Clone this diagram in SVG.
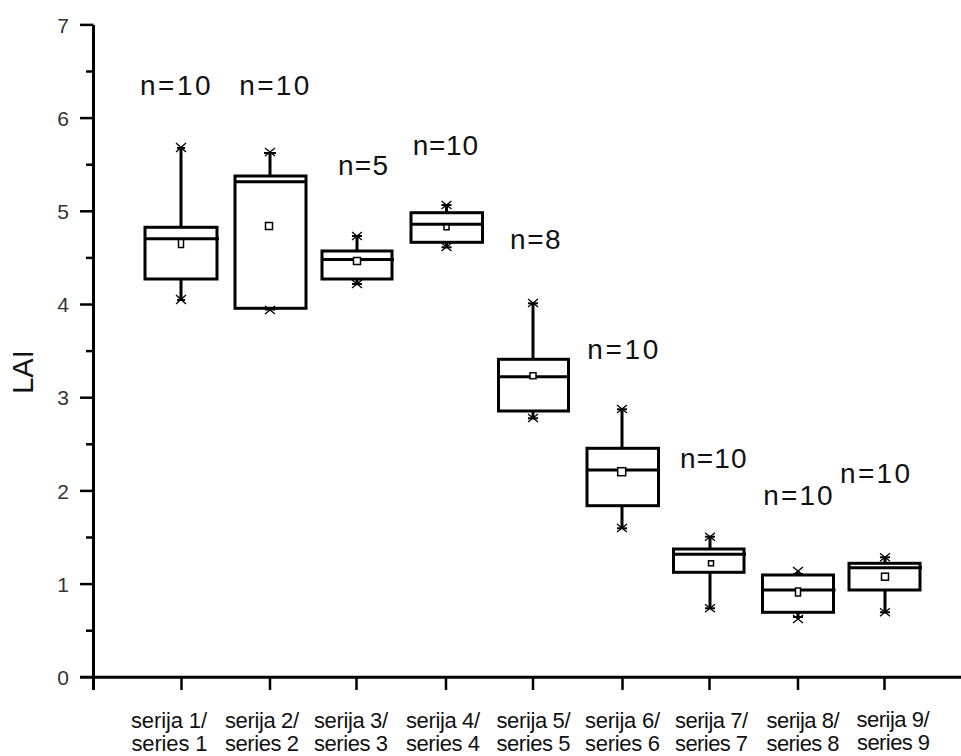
<svg xmlns="http://www.w3.org/2000/svg" width="961" height="756" viewBox="0 0 961 756">
<style>
.ax{stroke:#000;stroke-width:3;fill:none}
.tk{stroke:#000;stroke-width:2.5}
.box{fill:#fff;stroke:#000;stroke-width:3}
.med{stroke:#000;stroke-width:3}
.wh{stroke:#000;stroke-width:3}
.cap{stroke:#000;stroke-width:2}
.xm{stroke:#000;stroke-width:1.3}
.mean{fill:#fff;stroke:#000;stroke-width:1.5}
.yl{font-family:"Liberation Sans",Arial,sans-serif;font-size:21px;fill:#333;text-anchor:end}
.xl{font-family:"Liberation Sans",Arial,sans-serif;font-size:22px;fill:#111}
.nl{font-family:"Liberation Sans",Arial,sans-serif;font-size:28px;fill:#111}
.tt{font-family:"Liberation Sans",Arial,sans-serif;font-size:29px;fill:#111}
</style>
<rect width="961" height="756" fill="#fff"/>
<g id="axes">
<line class="ax" x1="93.5" y1="24.9" x2="93.5" y2="690"/>
<line class="ax" x1="80" y1="677.3" x2="961" y2="677.3"/>
<g class="tk">
<line x1="80" y1="24.9" x2="93.5" y2="24.9"/>
<line x1="80" y1="118.1" x2="93.5" y2="118.1"/>
<line x1="80" y1="211.3" x2="93.5" y2="211.3"/>
<line x1="80" y1="304.5" x2="93.5" y2="304.5"/>
<line x1="80" y1="397.7" x2="93.5" y2="397.7"/>
<line x1="80" y1="490.9" x2="93.5" y2="490.9"/>
<line x1="80" y1="584.1" x2="93.5" y2="584.1"/>
<line x1="86" y1="71.5" x2="93.5" y2="71.5"/>
<line x1="86" y1="164.7" x2="93.5" y2="164.7"/>
<line x1="86" y1="257.9" x2="93.5" y2="257.9"/>
<line x1="86" y1="351.1" x2="93.5" y2="351.1"/>
<line x1="86" y1="444.3" x2="93.5" y2="444.3"/>
<line x1="86" y1="537.5" x2="93.5" y2="537.5"/>
<line x1="86" y1="630.7" x2="93.5" y2="630.7"/>
<line x1="181.5" y1="677" x2="181.5" y2="690"/>
<line x1="270" y1="677" x2="270" y2="690"/>
<line x1="356.5" y1="677" x2="356.5" y2="690"/>
<line x1="446" y1="677" x2="446" y2="690"/>
<line x1="533" y1="677" x2="533" y2="690"/>
<line x1="622.5" y1="677" x2="622.5" y2="690"/>
<line x1="709.5" y1="677" x2="709.5" y2="690"/>
<line x1="798" y1="677" x2="798" y2="690"/>
<line x1="884.5" y1="677" x2="884.5" y2="690"/>
</g>
<text class="yl" x="69" y="32.5">7</text>
<text class="yl" x="69" y="125.7">6</text>
<text class="yl" x="69" y="218.9">5</text>
<text class="yl" x="69" y="312.1">4</text>
<text class="yl" x="69" y="405.3">3</text>
<text class="yl" x="69" y="498.5">2</text>
<text class="yl" x="69" y="591.7">1</text>
<text class="yl" x="69" y="684.9">0</text>
<text class="tt" transform="translate(33,372) rotate(-90)" text-anchor="middle">LAI</text>
</g>
<g id="xlabels">
<text class="xl" x="131" y="728"><tspan textLength="76">serija 1/</tspan><tspan x="131.5" y="751" textLength="76">series 1</tspan></text>
<text class="xl" x="225" y="728"><tspan textLength="74">serija 2/</tspan><tspan x="225" y="751" textLength="74">series 2</tspan></text>
<text class="xl" x="314" y="728"><tspan textLength="74">serija 3/</tspan><tspan x="314" y="751" textLength="74">series 3</tspan></text>
<text class="xl" x="406" y="728"><tspan textLength="74">serija 4/</tspan><tspan x="406" y="751" textLength="74">series 4</tspan></text>
<text class="xl" x="496.5" y="728"><tspan textLength="74">serija 5/</tspan><tspan x="496.5" y="751" textLength="74">series 5</tspan></text>
<text class="xl" x="585" y="728"><tspan textLength="75">serija 6/</tspan><tspan x="585" y="751" textLength="75">series 6</tspan></text>
<text class="xl" x="675" y="728"><tspan textLength="73">serija 7/</tspan><tspan x="675" y="751" textLength="73">series 7</tspan></text>
<text class="xl" x="766.5" y="728"><tspan textLength="73">serija 8/</tspan><tspan x="766.5" y="751" textLength="73">series 8</tspan></text>
<text class="xl" x="856.5" y="727"><tspan textLength="73">serija 9/</tspan><tspan x="857" y="750" textLength="73">series 9</tspan></text>
</g>
<g id="connectors">
<line class="wh" x1="181" y1="227.3" x2="181" y2="148"/>
<line class="wh" x1="181" y1="279" x2="181" y2="300"/>
<line class="wh" x1="270" y1="176" x2="270" y2="152"/>
<line class="wh" x1="357" y1="251" x2="357" y2="236"/>
<line class="wh" x1="357" y1="279" x2="357" y2="284"/>
<line class="wh" x1="446.5" y1="212.7" x2="446.5" y2="205"/>
<line class="wh" x1="446.5" y1="242.3" x2="446.5" y2="247.3"/>
<line class="wh" x1="533" y1="359.3" x2="533" y2="303.3"/>
<line class="wh" x1="533" y1="411" x2="533" y2="418.3"/>
<line class="wh" x1="622" y1="448.3" x2="622" y2="409.3"/>
<line class="wh" x1="622" y1="505.7" x2="622" y2="528.3"/>
<line class="wh" x1="710" y1="549" x2="710" y2="536.7"/>
<line class="wh" x1="710" y1="572.3" x2="710" y2="608.3"/>
<line class="wh" x1="798" y1="575" x2="798" y2="571"/>
<line class="wh" x1="798" y1="612.3" x2="798" y2="619"/>
<line class="wh" x1="885" y1="563.3" x2="885" y2="557.3"/>
<line class="wh" x1="885" y1="590" x2="885" y2="612.3"/>
</g>
<g id="box1">
<rect class="box" x="145" y="227.3" width="72" height="51.7"/>
<line class="med" x1="145" y1="238.8" x2="219" y2="238.8"/>
<rect class="mean" x="178.5" y="239.5" width="5" height="8"/>
<path class="xm" d="M176 143l10 9M186 143l-10 9M176 295l10 9M186 295l-10 9"/>
<line class="cap" x1="177" y1="148" x2="185" y2="148"/>
<line class="cap" x1="177" y1="300" x2="185" y2="300"/>
<text class="nl" x="140" y="95" textLength="70.7">n=10</text>
</g>
<g id="box2">
<rect class="box" x="235" y="176" width="71" height="132.3"/>
<line class="med" x1="235" y1="181.7" x2="307" y2="181.7"/>
<rect class="mean" x="265.5" y="222.5" width="7" height="7"/>
<path class="xm" d="M265 148l10 8M275 148l-10 8M265 306l10 8M275 306l-10 8"/>
<line class="cap" x1="264" y1="153" x2="276" y2="153"/>
<line class="cap" x1="265" y1="309.5" x2="275" y2="309.5"/>
<text class="nl" x="239.3" y="95" textLength="70">n=10</text>
</g>
<g id="box3">
<rect class="box" x="322" y="251" width="70" height="28"/>
<line class="med" x1="322" y1="259.5" x2="394" y2="259.5"/>
<rect class="mean" x="353.5" y="257.5" width="7" height="7"/>
<path class="xm" d="M352 232l10 8M362 232l-10 8M352 280l10 8M362 280l-10 8"/>
<line class="cap" x1="352" y1="236" x2="362" y2="236"/>
<line class="cap" x1="352" y1="284" x2="362" y2="284"/>
<text class="nl" x="338" y="175" textLength="50">n=5</text>
</g>
<g id="box4">
<rect class="box" x="411" y="212.7" width="71.5" height="29.6"/>
<line class="med" x1="411" y1="224.3" x2="484" y2="224.3"/>
<rect class="mean" x="444" y="224.8" width="5" height="5"/>
<path class="xm" d="M441.5 201l10 8M451.5 201l-10 8M441.5 243l10 8M451.5 243l-10 8"/>
<line class="cap" x1="441.5" y1="205" x2="451.5" y2="205"/>
<line class="cap" x1="441.5" y1="247.3" x2="451.5" y2="247.3"/>
<text class="nl" x="412.7" y="155" textLength="65.3">n=10</text>
</g>
<g id="box5">
<rect class="box" x="498.5" y="359.3" width="70" height="51.7"/>
<line class="med" x1="498.5" y1="376.7" x2="570" y2="376.7"/>
<rect class="mean" x="530" y="372.7" width="6" height="6"/>
<path class="xm" d="M528 299l10 8M538 299l-10 8M528 414l10 8M538 414l-10 8"/>
<line class="cap" x1="528" y1="303.3" x2="538" y2="303.3"/>
<line class="cap" x1="528" y1="418.3" x2="538" y2="418.3"/>
<text class="nl" x="510" y="249" textLength="50.7">n=8</text>
</g>
<g id="box6">
<rect class="box" x="587" y="448.3" width="71.5" height="57.4"/>
<line class="med" x1="587" y1="470" x2="660" y2="470"/>
<rect class="mean" x="617.7" y="467.7" width="8" height="8"/>
<path class="xm" d="M617 405l10 8M627 405l-10 8M617 524l10 8M627 524l-10 8"/>
<line class="cap" x1="617" y1="409.3" x2="627" y2="409.3"/>
<line class="cap" x1="617" y1="528.3" x2="627" y2="528.3"/>
<text class="nl" x="587.3" y="359.3" textLength="71">n=10</text>
</g>
<g id="box7">
<rect class="box" x="673.5" y="549" width="70.5" height="23.3"/>
<line class="med" x1="673.5" y1="554.3" x2="746" y2="554.3"/>
<rect class="mean" x="708.5" y="560.8" width="5" height="5"/>
<path class="xm" d="M705 532.7l10 8M715 532.7l-10 8M705 604.3l10 8M715 604.3l-10 8"/>
<line class="cap" x1="705" y1="536.7" x2="715" y2="536.7"/>
<line class="cap" x1="705" y1="608.3" x2="715" y2="608.3"/>
<text class="nl" x="680" y="468.3" textLength="66.7">n=10</text>
</g>
<g id="box8">
<rect class="box" x="762.5" y="575" width="71" height="37.3"/>
<line class="med" x1="762.5" y1="590" x2="835.5" y2="590"/>
<rect class="mean" x="795.5" y="588" width="5" height="8"/>
<path class="xm" d="M793 567l10 8M803 567l-10 8M793 615l10 8M803 615l-10 8"/>
<line class="cap" x1="793" y1="574" x2="803" y2="574"/>
<line class="cap" x1="793" y1="617" x2="803" y2="617"/>
<text class="nl" x="763.3" y="505" textLength="69.4">n=10</text>
</g>
<g id="box9">
<rect class="box" x="849" y="563.3" width="71" height="26.7"/>
<line class="med" x1="849" y1="567.7" x2="922" y2="567.7"/>
<rect class="mean" x="881.5" y="573.2" width="7" height="7"/>
<path class="xm" d="M880 553.3l10 8M890 553.3l-10 8M880 608.3l10 8M890 608.3l-10 8"/>
<line class="cap" x1="880" y1="557.3" x2="890" y2="557.3"/>
<line class="cap" x1="880" y1="612.3" x2="890" y2="612.3"/>
<text class="nl" x="840" y="482.7" textLength="70">n=10</text>
</g>
</svg>
